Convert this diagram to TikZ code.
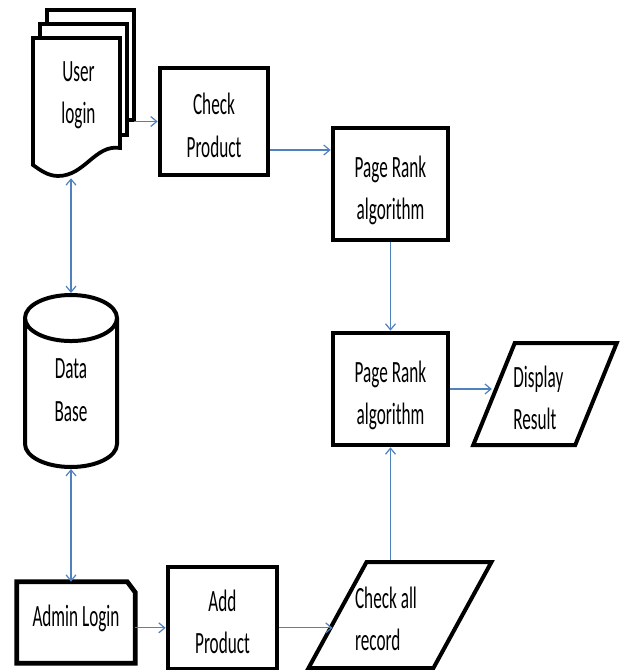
\documentclass[tikz,border=0pt]{standalone}
\usepackage{fontspec}
\setmainfont{Carlito}
\usetikzlibrary{positioning,arrows.meta,calc,shapes.geometric}
\definecolor{flowblue}{RGB}{79,129,189}
\newlength{\textdrop}
\setlength{\textdrop}{-4.5pt}
\newcommand{\lines}[2][c]{\raisebox{\textdrop}[\height][\depth]{\scalebox{1}[1.8]{\fontsize{12.9}{17.8}\selectfont\begin{tabular}{@{}#1@{}}#2\end{tabular}}}}

\begin{document}
\begin{tikzpicture}[x=0.75pt,y=-0.75pt,
  box/.style={draw,line width=3.5pt,fill=white,minimum width=86.25pt,minimum height=84pt,inner sep=0pt},
  slanted/.style={trapezium,draw,line width=3pt,fill=white,trapezium stretches=true,inner sep=0pt},
  lift/.style={execute at begin node={\setlength{\textdrop}{#1}}},
  flow/.style={draw=flowblue,line width=0.9pt,-{Straight Barb[length=4.5pt,width=7.5pt]}},
  twoway/.style={flow,{Straight Barb[length=4.5pt,width=7.5pt]}-{Straight Barb[length=4.5pt,width=7.5pt]}}]
\useasboundingbox (0,0) rectangle (622,670);

% Stacked login sheets, back to front.
\draw[line width=2.8pt,fill=white] (47,120) -- (47,10) -- (134,10) -- (134,120) -- cycle;
\draw[line width=2.8pt,fill=white] (40,135) -- (40,24) -- (127,24) -- (127,135) -- cycle;
\draw[line width=2.8pt,fill=white] (33,165) -- (33,38) -- (120,38) -- (120,148)
  .. controls (95,144) and (85,176) .. (58,176) .. controls (48,176) and (40,170) .. (33,165) -- cycle;
\node[lift=0pt,minimum width=75.75pt,minimum height=126pt,inner sep=0pt] (login) at (83.5,94) {\hspace*{-7.5pt}\lines{User\\login}};

\node[box,minimum width=81pt,minimum height=80.25pt] (check) at (214,121.5) {\lines{Check\\Product}};
\foreach \n/\y in {pr1/184,pr2/389}
  \node[box] (\n) at (390.5,\y) {\lines{Page Rank\\algorithm}};
\node[slanted,trapezium left angle=73.6,trapezium right angle=106.4,minimum width=108pt,minimum height=76.5pt] (disp) at (545,394) {\hspace*{-10pt}\lines[l]{Display\\Result}};

\node[cylinder,shape border rotate=90,aspect=1.4,draw,line width=3pt,fill=white,minimum width=69pt,minimum height=129pt,inner sep=0pt,anchor=north,lift=1.5pt] (db) at (71,293) {\lines{Data\\Base}};

% Admin side, bottom row.
\node[lift=3.75pt,minimum width=88.5pt,minimum height=60.75pt,inner sep=0pt] (admin) at (76,622.5) {\lines{Admin Login}};
\draw[line width=3.5pt] (admin.south west) -- (admin.north west) -- ([xshift=-6pt]admin.north east)
  -- ([yshift=-8pt]admin.north east) -- (admin.south east) -- cycle;
\node[box,minimum width=81.75pt,minimum height=76.5pt] (add) at (222.5,618) {\lines{Add\\Product}};
\node[slanted,trapezium left angle=71,trapezium right angle=109,minimum width=138pt,minimum height=79.5pt] (chk) at (400,615) {\hspace*{-21pt}\lines[l]{Check all\\record}};

% Connectors.
\draw[flow] (login.east |- check.west) -- (check.west);
\path ([yshift=-21.4pt]check.east) coordinate (cp);
\draw[flow] (cp) -- (cp -| pr1.west);
\draw[flow] (pr1.south) -- (pr2.north);
\draw[flow] (pr2.east) -- (pr2.east -| disp.west);
\draw[flow] (chk.north -| pr2.south) -- (pr2.south);
\draw[twoway] (db.north |- login.south) -- (db.north);
\draw[twoway] (db.south) -- (db.south |- admin.north);
\draw[flow] ([yshift=-4pt]admin.east) coordinate (ap) -- (ap -| add.west);
\draw[flow] (add.east |- ap) -- ([xshift=-2pt]chk.west |- ap);
\end{tikzpicture}
\end{document}
